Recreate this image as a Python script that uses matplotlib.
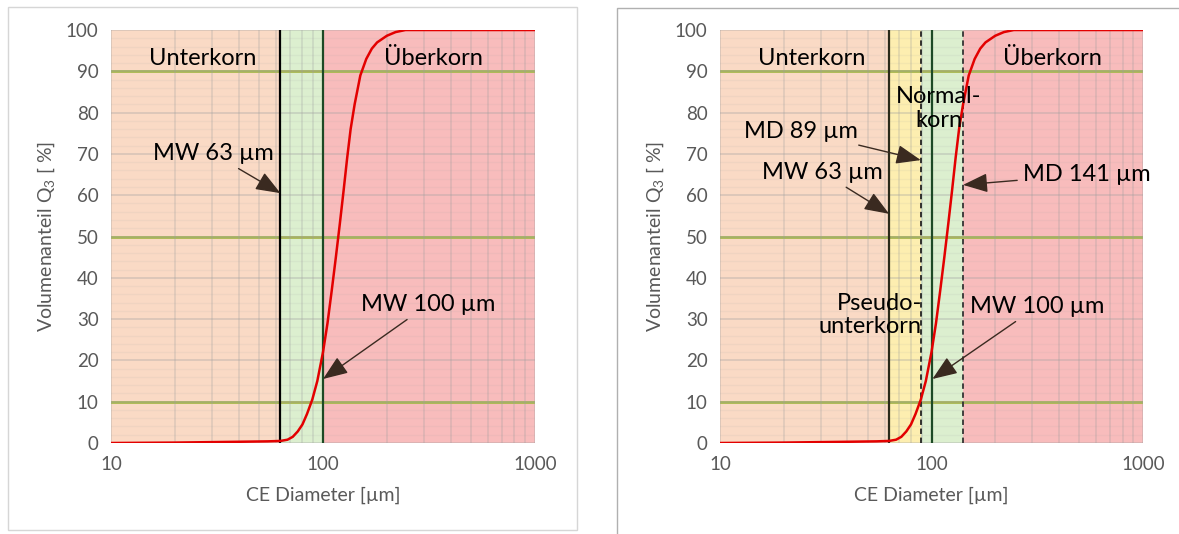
import matplotlib.pyplot as plt
from matplotlib.patches import Rectangle
from matplotlib.ticker import FixedLocator, NullFormatter

plt.rcParams['font.family'] = ['Lato', 'DejaVu Sans']
plt.rcParams['mathtext.default'] = 'regular'

# cumulative volume distribution Q3
diameter = [10, 20, 40, 55, 63, 68, 72, 76, 80, 84, 89, 94, 100, 105, 110, 115, 120,
            125, 130, 135, 141, 150, 160, 170, 180, 200, 220, 245, 1000]
q3 = [0.0, 0.1, 0.3, 0.4, 0.5, 0.8, 1.5, 2.8, 4.5, 7.0, 10.5, 15.0, 22.0, 29.0, 37.0,
      45.0, 53.0, 61.0, 69.0, 76.0, 82.0, 89.0, 93.0, 95.5, 97.0, 98.6, 99.5, 100.0, 100.0]

# class limits
left_bounds = [63, 100]
right_bounds = [63, 89, 100, 141]

c_unter = '#fadac5'
c_pseudo = '#fdeeb0'
c_normal = '#dcefcf'
c_ueber = '#f8bcbc'
grey = '#595959'
olive = '#a8b84c'
fs = 17


def setup(ax):
    ax.set_xscale('log')
    ax.set_xlim(10, 1000)
    ax.set_ylim(0, 100)
    ax.xaxis.set_major_locator(FixedLocator([10, 100, 1000]))
    ax.set_xticklabels(['10', '100', '1000'])
    ax.xaxis.set_minor_locator(FixedLocator([i * d for d in (10, 100) for i in range(2, 10)]))
    ax.xaxis.set_minor_formatter(NullFormatter())
    ax.set_yticks(range(0, 101, 10))
    ax.set_yticks(range(0, 101, 2), minor=True)
    ax.grid(True, which='major', color='#a0a0a0', alpha=0.35, lw=1.3, zorder=1)
    ax.grid(True, which='minor', axis='x', color='#a0a0a0', alpha=0.3, lw=1.2, zorder=1)
    ax.grid(True, which='minor', axis='y', color='#a0a0a0', alpha=0.1, lw=1.0, zorder=1)
    ax.set_axisbelow(False)
    ax.tick_params(which='both', length=0, labelsize=13.5, colors=grey, pad=9)
    for s in ax.spines.values():
        s.set_visible(False)
    for y in (10, 50, 90):
        ax.axhline(y, color=olive, lw=2, zorder=2)
    ax.plot(diameter, q3, color='#e30000', lw=1.8, zorder=4)
    ax.set_xlabel('CE Diameter [µm]', fontsize=14, color=grey, labelpad=10)
    ax.set_ylabel('Volumenanteil Q$_3$ [ %]', fontsize=14, color=grey, labelpad=6)
    ax.text(0.09, 0.93, 'Unterkorn', transform=ax.transAxes, fontsize=fs, va='center')


arrow = dict(arrowstyle='-|>,head_length=0.9,head_width=0.35', color='#3a2a20', lw=1,
             shrinkA=2, shrinkB=0)

fig = plt.figure(figsize=(11.79, 5.34), dpi=100)
fig.patches.append(Rectangle((8 / 1179, 4 / 534), 569 / 1179, 523 / 534,
                             transform=fig.transFigure, fill=False, ec='#d6d6d6', lw=1))
fig.patches.append(Rectangle((617 / 1179, -0.01), 0.5, 1 - 8 / 534 + 0.01,
                             transform=fig.transFigure, fill=False, ec='#b0b0b0', lw=1))

# left chart
ax1 = fig.add_axes([111 / 1179, 0.1704, 424 / 1179, 0.7734])
ax1.axvspan(10, left_bounds[0], color=c_unter, zorder=0, lw=0)
ax1.axvspan(left_bounds[0], left_bounds[1], color=c_normal, zorder=0, lw=0)
ax1.axvspan(left_bounds[1], 1000, color=c_ueber, zorder=0, lw=0)
setup(ax1)
ax1.text(0.76, 0.93, 'Überkorn', transform=ax1.transAxes, fontsize=fs, va='center',
         ha='center')
ax1.axvline(63, color='black', lw=1.6, zorder=3)
ax1.axvline(100, color='#1d4a25', lw=1.6, zorder=3)
ax1.annotate('MW 63 µm', xy=(63, 60.5), xytext=(15.8, 70), fontsize=fs,
             ha='left', va='center', arrowprops=arrow)
ax1.annotate('MW 100 µm', xy=(100, 15.5), xytext=(151, 33.5), fontsize=fs,
             ha='left', va='center', arrowprops=arrow)

# right chart
ax2 = fig.add_axes([720 / 1179, 0.1704, 423 / 1179, 0.7734])
ax2.axvspan(10, right_bounds[0], color=c_unter, zorder=0, lw=0)
ax2.axvspan(right_bounds[0], right_bounds[1], color=c_pseudo, zorder=0, lw=0)
ax2.axvspan(right_bounds[1], right_bounds[3], color=c_normal, zorder=0, lw=0)
ax2.axvspan(right_bounds[3], 1000, color=c_ueber, zorder=0, lw=0)
setup(ax2)
ax2.text(0.787, 0.93, 'Überkorn', transform=ax2.transAxes, fontsize=fs, va='center',
         ha='center')
ax2.axvline(63, color='#2a2a1a', lw=1.6, zorder=3)
ax2.axvline(89, color='#222222', lw=1.3, ls=(0, (3, 2)), zorder=3)
ax2.axvline(100, color='#1d4a25', lw=1.6, zorder=3)
ax2.axvline(141, color='#333333', lw=1.3, ls=(0, (3, 2)), zorder=3)
ax2.text(108, 81, 'Normal-\nkorn', fontsize=fs, ha='center', va='center', zorder=5,
         linespacing=1.15)
ax2.text(90, 31, 'Pseudo-\nunterkorn', fontsize=fs, ha='right', va='center', zorder=5,
         linespacing=1.15)
ax2.annotate('MD 89 µm', xy=(89, 68.5), xytext=(13, 75.5), fontsize=fs,
             ha='left', va='center', arrowprops=arrow)
ax2.annotate('MW 63 µm', xy=(63, 55.5), xytext=(15.8, 65.5), fontsize=fs,
             ha='left', va='center', arrowprops=arrow)
ax2.annotate('MD 141 µm', xy=(141, 62.5), xytext=(270, 65), fontsize=fs,
             ha='left', va='center', arrowprops=arrow)
ax2.annotate('MW 100 µm', xy=(101, 15.5), xytext=(152, 33), fontsize=fs,
             ha='left', va='center', arrowprops=arrow)

fig.savefig('out.png', dpi=100)
